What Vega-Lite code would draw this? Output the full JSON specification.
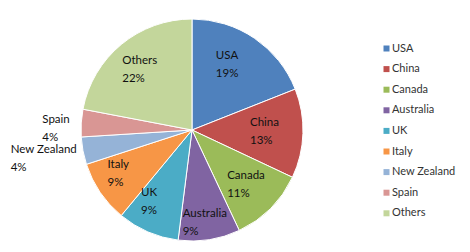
{
  "$schema": "https://vega.github.io/schema/vega-lite/v6.json",
  "width": 384,
  "height": 252,
  "autosize": "none",
  "padding": {"left": 0, "top": 4, "right": 86, "bottom": 0},
  "background": "white",
  "config": {"view": {"stroke": null}, "font": "Lato"},
  "data": {
    "values": [
      {"country": "USA", "value": 19, "rank": 1},
      {"country": "China", "value": 13, "rank": 2},
      {"country": "Canada", "value": 11, "rank": 3},
      {"country": "Australia", "value": 9, "rank": 4},
      {"country": "UK", "value": 9, "rank": 5},
      {"country": "Italy", "value": 9, "rank": 6},
      {"country": "New Zealand", "value": 4, "rank": 7},
      {"country": "Spain", "value": 4, "rank": 8},
      {"country": "Others", "value": 22, "rank": 9}
    ]
  },
  "transform": [
    {"calculate": "datum.country + '\\n' + datum.value + '%'", "as": "label"}
  ],
  "encoding": {
    "theta": {"field": "value", "type": "quantitative", "stack": true},
    "order": {"field": "rank", "type": "quantitative"}
  },
  "layer": [
    {
      "mark": {"type": "arc", "radius": 111, "stroke": "white", "strokeWidth": 1},
      "encoding": {
        "color": {
          "field": "country",
          "type": "nominal",
          "scale": {
            "domain": ["USA", "China", "Canada", "Australia", "UK", "Italy", "New Zealand", "Spain", "Others"],
            "range": ["#4F81BD", "#C0504D", "#9BBB59", "#8064A2", "#4BACC6", "#F79646", "#95B3D7", "#D99694", "#C3D69B"]
          },
          "legend": {
            "title": null,
            "orient": "none",
            "legendX": 381,
            "legendY": 39,
            "symbolType": "square",
            "symbolSize": 36,
            "symbolStrokeWidth": 0,
            "labelFontSize": 11,
            "labelColor": "#333333",
            "labelOffset": 0,
            "rowPadding": 8.6,
            "labelFont": "Lato"
          }
        }
      }
    },
    {
      "mark": {"type": "text", "radius": 78, "dx": -20, "dy": -9, "fontSize": 11.5, "lineBreak": "\n", "lineHeight": 18, "color": "#111111", "align": "left", "baseline": "middle"},
      "encoding": {
        "text": {
          "condition": {"test": "indexof(['Spain', 'New Zealand', 'Australia'], datum.country) < 0", "field": "label"},
          "value": ""
        }
      }
    },
    {
      "mark": {"type": "text", "radius": 94, "dx": -24, "dy": -9, "fontSize": 11.5, "lineBreak": "\n", "lineHeight": 18, "color": "#111111", "align": "left", "baseline": "middle"},
      "encoding": {
        "text": {
          "condition": {"test": "datum.country === 'Australia'", "field": "label"},
          "value": ""
        }
      }
    },
    {
      "mark": {"type": "text", "radius": 152, "dx": -32, "dy": -8, "fontSize": 11.5, "lineBreak": "\n", "lineHeight": 18, "color": "#111111", "align": "left", "baseline": "middle"},
      "encoding": {
        "text": {
          "condition": {"test": "datum.country === 'New Zealand'", "field": "label"},
          "value": ""
        }
      }
    },
    {
      "mark": {"type": "text", "radius": 148, "dx": -2, "dy": -1, "fontSize": 11.5, "lineBreak": "\n", "lineHeight": 18, "color": "#111111", "align": "left", "baseline": "middle"},
      "encoding": {
        "text": {
          "condition": {"test": "datum.country === 'Spain'", "field": "label"},
          "value": ""
        }
      }
    }
  ]
}
